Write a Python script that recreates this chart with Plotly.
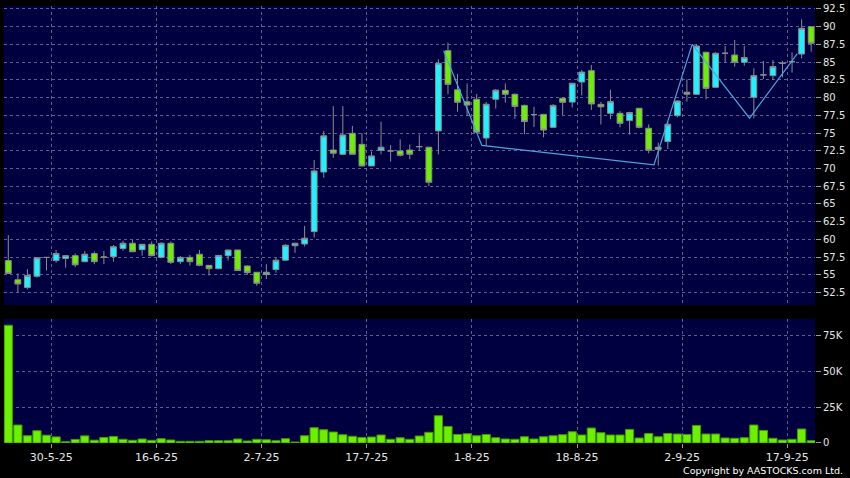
import pandas as pd
import plotly.graph_objects as go

# ---------------- data ----------------
dates = [d.strftime("%Y-%m-%d") for d in pd.bdate_range("2025-05-26", "2025-09-22") if d.strftime("%Y-%m-%d") != "2025-07-01"]

opens = [57.0, 54.3, 53.2, 54.8, 57.45, 57.0, 57.3, 57.7, 56.85, 58.0,
         57.5, 57.56, 58.7, 59.45, 58.55, 59.3, 57.46, 59.44, 56.85, 57.46,
         57.9, 56.33, 55.86, 57.7, 58.5, 56.25, 55.36, 55.03, 55.73, 57.06,
         59.1, 59.35, 61.1, 69.5, 72.6, 72.0, 74.96, 73.4, 70.36, 72.57,
         72.47, 72.47, 72.6, 73.08, 73.0, 75.3, 86.62, 81.1, 79.4, 79.76,
         74.3, 79.76, 81.03, 80.46, 78.9, 77.6, 77.62, 75.8, 79.9, 79.36,
         82.2, 83.8, 79.05, 77.78, 77.78, 76.75, 78.49, 75.67, 72.99, 73.79,
         77.45, 80.75, 80.46, 86.4, 81.45, 86.25, 86.0, 84.98, 80.04, 83.2,
         83.1, 84.84, 85.07, 86.15, 90.0]
highs = [60.6, 55.2, 55.8, 57.5, 57.5, 58.5, 57.8, 58.0, 58.35, 58.3,
         58.35, 59.2, 59.8, 59.9, 59.35, 59.7, 59.6, 59.7, 57.65, 57.8,
         58.5, 56.4, 57.8, 58.5, 58.5, 56.3, 55.4, 56.5, 57.4, 59.3,
         59.5, 61.9, 71.2, 75.3, 78.8, 78.8, 76.0, 75.0, 72.4, 76.6,
         73.3, 74.1, 73.4, 74.8, 73.0, 85.4, 87.75, 83.33, 82.0, 80.5,
         79.4, 81.2, 82.0, 80.6, 79.0, 78.7, 77.7, 79.08, 80.0, 82.05,
         83.9, 84.6, 79.4, 81.1, 78.1, 78.0, 78.5, 76.23, 73.65, 76.6,
         79.6, 82.58, 87.56, 86.45, 86.4, 87.28, 88.13, 87.3, 84.13, 85.17,
         85.3, 85.17, 86.39, 91.04, 90.0]
lows = [55.2, 52.5, 52.95, 54.6, 55.6, 56.7, 56.0, 56.1, 56.8, 56.5,
        56.5, 56.85, 58.4, 58.2, 57.7, 57.6, 57.4, 56.5, 56.5, 56.3,
        56.2, 54.9, 55.8, 57.0, 55.6, 55.0, 53.45, 54.4, 55.3, 57.0,
        58.1, 59.0, 60.25, 68.7, 71.5, 71.9, 72.0, 70.3, 70.3, 72.0,
        70.97, 71.67, 71.3, 72.5, 67.5, 72.0, 80.46, 78.0, 77.4, 75.0,
        73.2, 78.45, 79.3, 77.0, 74.82, 75.85, 74.4, 75.7, 77.55, 78.6,
        80.3, 78.25, 76.2, 76.94, 75.8, 74.78, 75.67, 72.14, 70.4, 72.75,
        77.2, 79.43, 80.4, 79.76, 81.4, 84.93, 84.37, 84.5, 77.08, 82.63,
        82.5, 82.86, 83.52, 85.54, 86.48]
closes = [55.2, 53.7, 54.9, 57.4, 57.45, 58.0, 57.7, 56.4, 57.9, 56.85,
          57.5, 58.97, 59.45, 58.26, 59.3, 57.7, 59.44, 56.76, 57.46, 56.85,
          56.33, 55.86, 57.74, 58.5, 55.6, 55.3, 53.8, 55.36, 57.06, 59.17,
          59.45, 60.16, 69.65, 74.6, 72.15, 74.73, 72.0, 70.36, 71.77, 73.0,
          72.47, 71.86, 72.0, 73.08, 68.05, 84.84, 81.87, 79.34, 78.95, 75.12,
          79.07, 81.05, 80.46, 78.75, 76.62, 77.6, 75.42, 78.9, 79.33, 82.02,
          83.6, 79.1, 78.7, 79.43, 76.37, 77.88, 75.8, 72.57, 72.7, 76.23,
          79.52, 80.48, 87.28, 81.3, 86.25, 86.25, 84.98, 85.64, 83.1, 83.2,
          84.37, 84.84, 85.07, 89.77, 87.66]
volume_k = [82.5, 12.6, 5.1, 8.6, 5.5, 4.3, 0.9, 2.5, 5.0, 2.0,
            3.9, 4.6, 2.6, 1.9, 2.8, 1.9, 3.0, 2.1, 1.2, 1.2,
            1.2, 1.6, 1.6, 1.6, 2.8, 1.4, 2.6, 2.3, 1.6, 3.0,
            0.7, 5.1, 10.7, 9.3, 7.7, 5.8, 4.7, 3.9, 4.2, 5.6,
            2.6, 3.7, 2.6, 4.9, 7.5, 19.1, 11.6, 6.0, 6.5, 5.1,
            6.0, 3.7, 2.8, 2.6, 4.4, 2.8, 4.4, 5.1, 5.8, 7.9,
            5.6, 10.5, 7.2, 5.6, 5.6, 9.5, 3.5, 6.7, 4.4, 6.7,
            6.3, 6.0, 12.3, 6.3, 6.3, 3.5, 3.3, 3.7, 12.6, 8.8,
            3.3, 2.1, 2.6, 9.8, 1.6]

# zigzag line vertices (candle index, price)
zz_idx = [46, 50, 68, 72, 78, 83]
zz_val = [86.6, 73.25, 70.5, 87.5, 77.1, 86.2]

tick_dates = ["2025-05-30", "2025-06-16", "2025-07-02", "2025-07-17",
              "2025-08-01", "2025-08-18", "2025-09-02", "2025-09-17"]
tick_labels = ["30-5-25", "16-6-25", "2-7-25", "17-7-25",
               "1-8-25", "18-8-25", "2-9-25", "17-9-25"]

price_ticks = [52.5, 55, 57.5, 60, 62.5, 65, 67.5, 70, 72.5, 75, 77.5, 80, 82.5, 85, 87.5, 90, 92.5]
price_labels = ["52.5", "55", "57.5", "60", "62.5", "65", "67.5", "70", "72.5",
                "75", "77.5", "80", "82.5", "85", "87.5", "90", "92.5"]
vol_ticks = [0, 25, 50, 75]
vol_labels = ["0", "25K", "50K", "75K"]

# ---------------- styling ----------------
NAVY = "#000040"
CYAN = "#1ef2ff"
GREEN = "#6cf000"
WICK = "#8c8c8c"
GRID = "rgba(125,125,175,0.75)"
TXT = "#e6e6e6"
ZZ = "#4aa6e0"
FONT = "DejaVu Sans"

idx = list(range(len(dates)))
tick_pos = [dates.index(d) + 0.5 for d in tick_dates]

fig = go.Figure()
fig.add_trace(go.Candlestick(
    x=idx, open=opens, high=highs, low=lows, close=closes,
    text=dates, xaxis="x", yaxis="y", whiskerwidth=0,
    increasing=dict(fillcolor=CYAN, line=dict(color=WICK, width=1)),
    decreasing=dict(fillcolor=GREEN, line=dict(color=WICK, width=1)),
    showlegend=False, name="Price"))
fig.add_trace(go.Scatter(
    x=[i - 0.45 for i in zz_idx], y=zz_val, mode="lines",
    line=dict(color=ZZ, width=1.2), xaxis="x", yaxis="y",
    showlegend=False, hoverinfo="skip"))
fig.add_trace(go.Bar(
    x=idx, y=volume_k, xaxis="x2", yaxis="y2",
    marker=dict(color=GREEN, line=dict(color="#3f9a00", width=1)),
    showlegend=False, name="Volume", hovertext=dates))

xr = [-0.45, len(dates) - 0.6]
common = dict(showline=False, zeroline=False, gridcolor=GRID, griddash="3px,3px", gridwidth=1)

fig.update_layout(
    width=850, height=478,
    margin=dict(l=4, r=35, t=6, b=35, autoexpand=False),
    paper_bgcolor="#000000", plot_bgcolor=NAVY,
    font=dict(family=FONT, color=TXT, size=10),
    bargap=0.14, boxgap=0.13,
    xaxis=dict(domain=[0, 1], anchor="y", range=xr, tickmode="array", tickvals=tick_pos,
               showticklabels=False, ticks="", showgrid=True,
               rangeslider=dict(visible=False), **common),
    xaxis2=dict(domain=[0, 1], anchor="y2", range=xr, tickmode="array", tickvals=tick_pos,
                ticktext=tick_labels, ticks="outside", ticklen=4, tickcolor="#9a9a9a",
                tickfont=dict(size=11, color=TXT), showgrid=True, **common),
    yaxis=dict(domain=[0.3158, 1], anchor="x", side="right", range=[50.74, 92.92],
               tickmode="array", tickvals=price_ticks, ticktext=price_labels,
               ticks="outside", ticklen=5, tickcolor="#9a9a9a", showgrid=True,
               tickfont=dict(size=10, color=TXT), **common),
    yaxis2=dict(domain=[0, 0.2838], anchor="x2", side="right", range=[0, 86.9],
                tickmode="array", tickvals=vol_ticks, ticktext=vol_labels,
                ticks="outside", ticklen=5, tickcolor="#9a9a9a", showgrid=True,
                tickfont=dict(size=10, color=TXT), **common),
    annotations=[dict(text="Copyright by AASTOCKS.com Ltd.", xref="paper", yref="paper",
                      x=1.037, y=-0.064, xanchor="right", yanchor="middle", showarrow=False,
                      font=dict(size=9.5, color="#ffffff", family=FONT))],
)

fig.write_html("out.html", config={"displayModeBar": False},
               post_script="document.body.style.margin='0';document.body.style.padding='0';")
